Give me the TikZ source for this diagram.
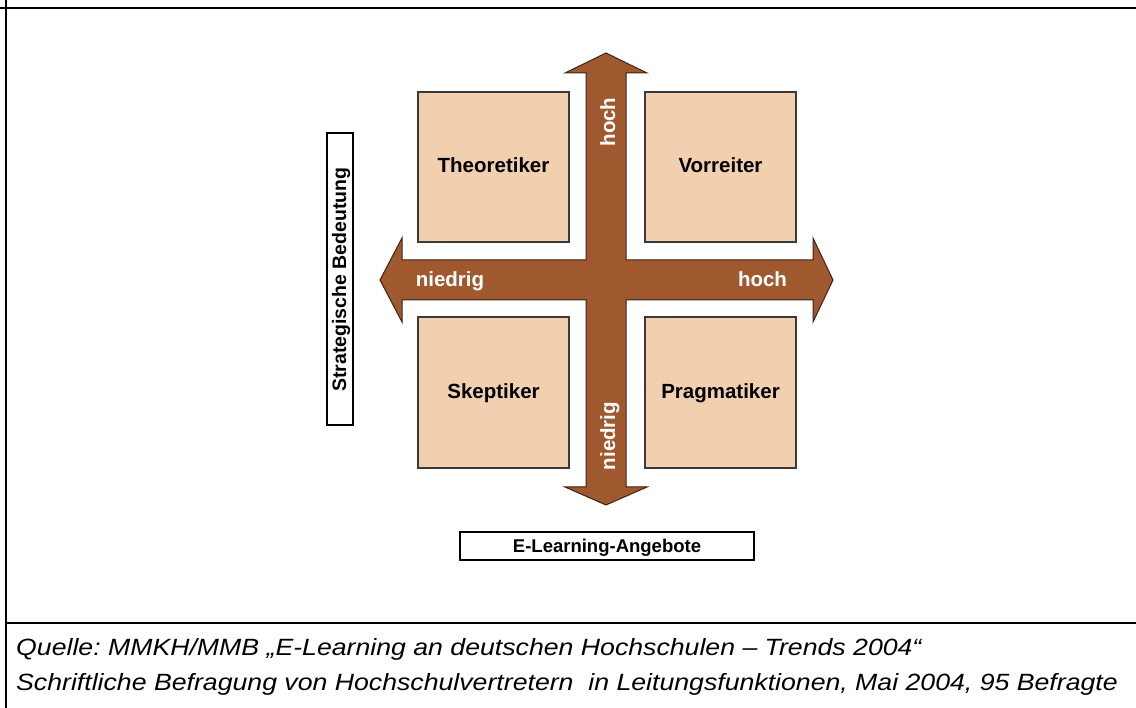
\documentclass[tikz,border=0pt]{standalone}
\usepackage{fontspec}
\setmainfont{Liberation Sans}
\newfontfamily\footfont[FakeStretch=1.135]{Liberation Sans}
\frenchspacing
\definecolor{shaft}{HTML}{A0592F}
\definecolor{shaftline}{HTML}{3C2414}
\definecolor{boxfill}{HTML}{F1CFAF}
\definecolor{boxline}{HTML}{3A3A3A}
\tikzset{
  quad/.style={draw=boxline, line width=1.4pt, fill=boxfill},
  quadlabel/.style={font=\fontsize{20.5}{24}\selectfont\bfseries, text=black, anchor=base, inner sep=0pt},
  axislabel/.style={font=\fontsize{20.5}{24}\selectfont\bfseries, text=white, anchor=base, inner sep=0pt},
  legendbox/.style={draw=black, line width=1.5pt, fill=white},
  legendlabel/.style={font=\fontsize{18.5}{22}\selectfont\bfseries, anchor=base, inner sep=0pt},
  footlabel/.style={font=\footfont\itshape\fontsize{23.5}{28}\selectfont, anchor=base west, inner sep=0pt},
  frameline/.style={draw=black, line width=2pt}
}
\begin{document}
\begin{tikzpicture}[x=1pt,y=-1pt]
\useasboundingbox (0,0) rectangle (1136,708);
% frame
\draw[frameline] (0,8) -- (1136,8);
\draw[frameline] (6,0) -- (6,708);
\draw[frameline] (6,622.5) -- (1136,622.5);
% cross arrow
\draw[shaftline, line width=1pt, fill=shaft, line join=miter]
  (606,53) -- (647,73) -- (626,73) -- (626,260) -- (813,260) -- (813,238)
  -- (833,280) -- (813,322) -- (813,300) -- (626,300) -- (626,487) -- (647,487)
  -- (606,505) -- (565,487) -- (586,487) -- (586,300) -- (402,300) -- (402,322)
  -- (380,280) -- (402,238) -- (402,260) -- (586,260) -- (586,73) -- (565,73) -- cycle;
% quadrant boxes
\draw[quad] (418,92) rectangle (569,242);
\draw[quad] (645,92) rectangle (796,242);
\draw[quad] (418,317) rectangle (569,468);
\draw[quad] (645,317) rectangle (796,468);
\node[quadlabel] (theo) at (493.5,173) {Theoretiker};
\node[quadlabel] (vorr) at (720.5,173) {Vorreiter};
\node[quadlabel] (skep) at (493.5,399) {Skeptiker};
\node[quadlabel] (prag) at (720.5,399) {Pragmatiker};
% axis labels
\node[axislabel, rotate=90] (vhoch) at (615,122) {hoch};
\node[axislabel, rotate=90] (vnied) at (615,436) {niedrig};
\node[axislabel] (hnied) at (450,287) {niedrig};
\node[axislabel] (hhoch) at (762.5,287) {hoch};
% legend boxes
\draw[legendbox] (327,133) rectangle (353,425);
\node[legendlabel, font=\fontsize{19.5}{23}\selectfont\bfseries, rotate=90] (strat) at (346,279.5) {Strategische Bedeutung};
\draw[legendbox] (460,532) rectangle (754,560);
\node[legendlabel] (elearn) at (607,552) {E-Learning-Angebote};
% footer
\node[footlabel] (src1) at (16,655)
  {Quelle: MMKH/MMB „E-Learning an deutschen Hochschulen – Trends 2004“};
\node[footlabel] (src2) at (16,690)
  {Schriftliche Befragung von Hochschulvertretern\ \ in Leitungsfunktionen, Mai 2004, 95 Befragte};
\end{tikzpicture}
\end{document}
